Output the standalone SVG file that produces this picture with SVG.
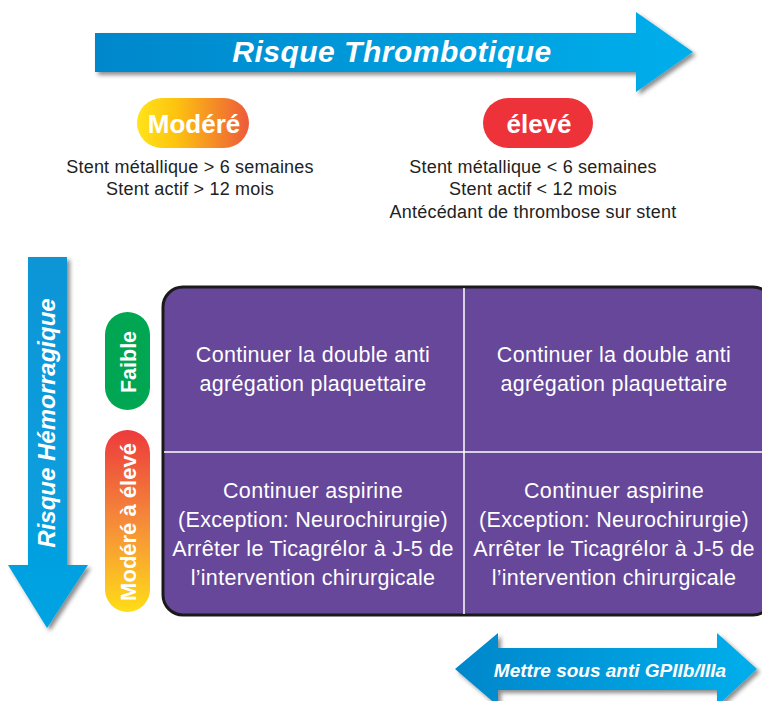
<svg xmlns="http://www.w3.org/2000/svg" width="762" height="701" viewBox="0 0 762 701">
<defs>
<linearGradient id="gH" x1="0" y1="0" x2="1" y2="0"><stop offset="0" stop-color="#0587CB"/><stop offset="1" stop-color="#02AEEB"/></linearGradient>
<linearGradient id="gV" x1="0" y1="0" x2="0" y2="1"><stop offset="0" stop-color="#0A95D6"/><stop offset="1" stop-color="#05A3E2"/></linearGradient>
<linearGradient id="gMod" x1="0" y1="0" x2="1" y2="0"><stop offset="0" stop-color="#FFE419"/><stop offset="0.35" stop-color="#FDC30F"/><stop offset="1" stop-color="#EE5A3B"/></linearGradient>
<linearGradient id="gModV" x1="0" y1="0" x2="0" y2="1"><stop offset="0" stop-color="#EC3A3C"/><stop offset="0.5" stop-color="#F58A3A"/><stop offset="1" stop-color="#FFDD17"/></linearGradient>
<filter id="sh" x="-10%" y="-20%" width="130%" height="150%"><feDropShadow dx="3" dy="3" stdDeviation="2" flood-color="#000" flood-opacity="0.45"/></filter>
</defs>
<style>
.t{font-family:"Liberation Sans",Arial,sans-serif;fill:#222;font-size:18px;text-anchor:middle;letter-spacing:0.2px}
.w{font-family:"Liberation Sans",Arial,sans-serif;fill:#fff;text-anchor:middle}
.ai{font-style:italic;font-weight:bold}
.pill{font-weight:bold;font-size:26px}
.cell{font-size:21.5px;letter-spacing:0.3px}
</style>
<g id="arrow-thrombotique">
<path d="M95,33 H636 V12 L693,52 L636,92 V72 H95 Z" fill="url(#gH)" filter="url(#sh)"/>
<text class="w ai" x="392" y="62" font-size="30" letter-spacing="0.5">Risque Thrombotique</text>
</g>
<g id="pill-modere">
<rect x="137" y="98" width="112" height="50" rx="25" fill="url(#gMod)"/>
<text class="w pill" x="194" y="133">Modéré</text>
</g>
<g id="pill-eleve">
<rect x="483" y="98" width="110" height="50" rx="25" fill="#EE3239"/>
<text class="w pill" x="539" y="133">élevé</text>
</g>
<g id="text-modere">
<text class="t" x="190" y="173">Stent métallique &gt; 6 semaines</text>
<text class="t" x="190" y="195">Stent actif &gt; 12 mois</text>
</g>
<g id="text-eleve">
<text class="t" x="533" y="173">Stent métallique &lt; 6 semaines</text>
<text class="t" x="533" y="195">Stent actif &lt; 12 mois</text>
<text class="t" x="533" y="218">Antécédant de thrombose sur stent</text>
</g>
<g id="arrow-hemorragique">
<path d="M28,257 H67 V565 H88 L47,628 L8,565 H28 Z" fill="url(#gV)" filter="url(#sh)"/>
<text class="w ai" transform="translate(55,423) rotate(-90)" font-size="24">Risque Hémorragique</text>
</g>
<g id="pill-faible">
<rect x="105" y="312" width="45" height="98" rx="22.5" fill="#00A651"/>
<text class="w" font-weight="bold" font-size="21.5" transform="translate(135.5,362) rotate(-90)">Faible</text>
</g>
<g id="pill-modere-eleve">
<rect x="105" y="430" width="45" height="182" rx="22.5" fill="url(#gModV)"/>
<text class="w" font-weight="bold" font-size="22" transform="translate(135.5,522) rotate(-90)">Modéré à élevé</text>
</g>
<g id="matrix">
<rect x="163" y="287" width="610" height="328" rx="20" fill="#66479A" stroke="#1a1a1a" stroke-width="3"/>
<line x1="464" y1="288" x2="464" y2="614" stroke="#fff" stroke-width="1.5"/>
<line x1="164" y1="452" x2="762" y2="452" stroke="#fff" stroke-width="1.5"/>
</g>
<g id="cell-tl">
<text class="w cell" x="313" y="362">Continuer la double anti</text>
<text class="w cell" x="313" y="391">agrégation plaquettaire</text>
</g>
<g id="cell-tr">
<text class="w cell" x="614" y="362">Continuer la double anti</text>
<text class="w cell" x="614" y="391">agrégation plaquettaire</text>
</g>
<g id="cell-bl">
<text class="w cell" x="313" y="498">Continuer aspirine</text>
<text class="w cell" x="313" y="527">(Exception: Neurochirurgie)</text>
<text class="w cell" x="313" y="556">Arrêter le Ticagrélor à J-5 de</text>
<text class="w cell" x="313" y="585">l’intervention chirurgicale</text>
</g>
<g id="cell-br">
<text class="w cell" x="614" y="498">Continuer aspirine</text>
<text class="w cell" x="614" y="527">(Exception: Neurochirurgie)</text>
<text class="w cell" x="614" y="556">Arrêter le Ticagrélor à J-5 de</text>
<text class="w cell" x="614" y="585">l’intervention chirurgicale</text>
</g>
<g id="arrow-gpiib">
<path d="M455,669 L498,633 V648 H717 V633 L757,669 L717,706 V690 H498 V706 Z" fill="url(#gH)" filter="url(#sh)"/>
<text class="w ai" x="610" y="677" font-size="19">Mettre sous anti GPIIb/IIIa</text>
</g>
</svg>
